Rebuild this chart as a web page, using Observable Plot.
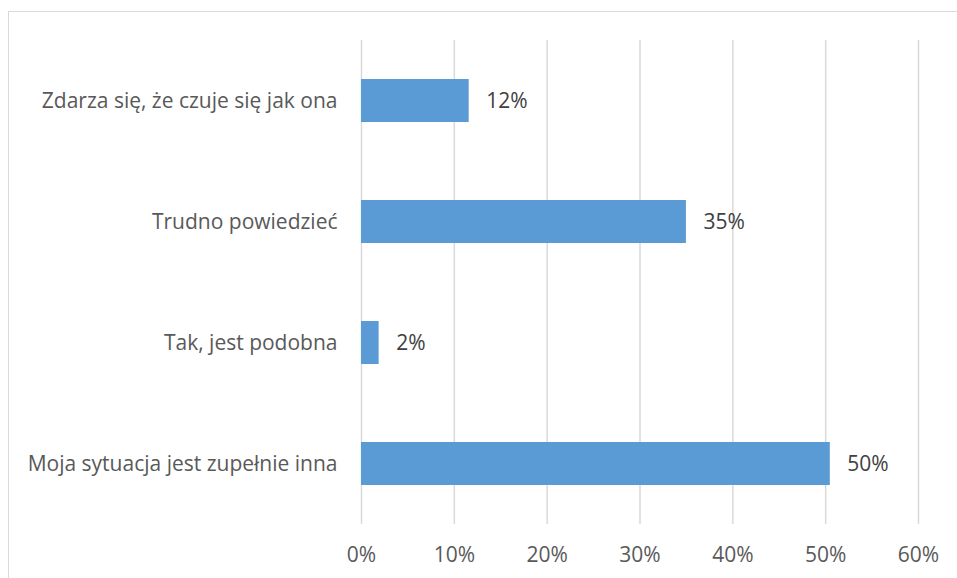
<!DOCTYPE html>
<html><head><meta charset="utf-8">
<script src="https://cdn.jsdelivr.net/npm/d3@7"></script>
<script src="https://cdn.jsdelivr.net/npm/@observablehq/plot@0.6"></script>
<style>
html,body{margin:0;padding:0;background:#fff;}
#wrap{position:relative;width:957px;height:578px;overflow:hidden;}
#frame{position:absolute;left:8px;top:11px;width:1200px;height:1200px;border:1px solid #d9d9d9;box-sizing:border-box;}
#chart{position:absolute;left:0;top:0;}
</style></head>
<body><div id="wrap"><div id="frame"></div><div id="chart"></div></div>
<script>
const categories = ["Zdarza się, że czuje się jak ona", "Trudno powiedzieć", "Tak, jest podobna", "Moja sytuacja jest zupełnie inna"];
const values = [11.6, 35.0, 1.9, 50.5];
const valueLabels = ["12%", "35%", "2%", "50%"];
const xTicks = [0, 10, 20, 30, 40, 50, 60];

const data = categories.map((c, i) => ({cat: c, v: values[i], label: valueLabels[i]}));

const chart = Plot.plot({
  width: 957, height: 578,
  marginLeft: 361, marginRight: 39, marginTop: 40, marginBottom: 54,
  style: {fontFamily: "'Open Sans', sans-serif", fontSize: "21px", color: "#595959", background: "transparent"},
  x: {domain: [0, 60], ticks: xTicks, tickFormat: d => d + "%", label: null},
  y: {domain: categories, label: null, paddingInner: 0.645, paddingOuter: 0.3225},
  marks: [
    Plot.gridX(xTicks, {stroke: "#d9d9d9", strokeOpacity: 1, strokeWidth: 1.5}),
    Plot.barX(data, {y: "cat", x: "v", fill: "#5b9bd5"}),
    Plot.text(data, {y: "cat", x: "v", text: "label", textAnchor: "start", dx: 17, fill: "#404040", fontSize: 21}),
    Plot.axisX(xTicks, {tickSize: 0, tickPadding: 23, fill: "#595959", fontSize: 21, tickFormat: d => d + "%"}),
    Plot.axisY({tickSize: 0, tickPadding: 24, fill: "#595959", fontSize: 21})
  ]
});
document.getElementById("chart").appendChild(chart);
</script></body></html>
